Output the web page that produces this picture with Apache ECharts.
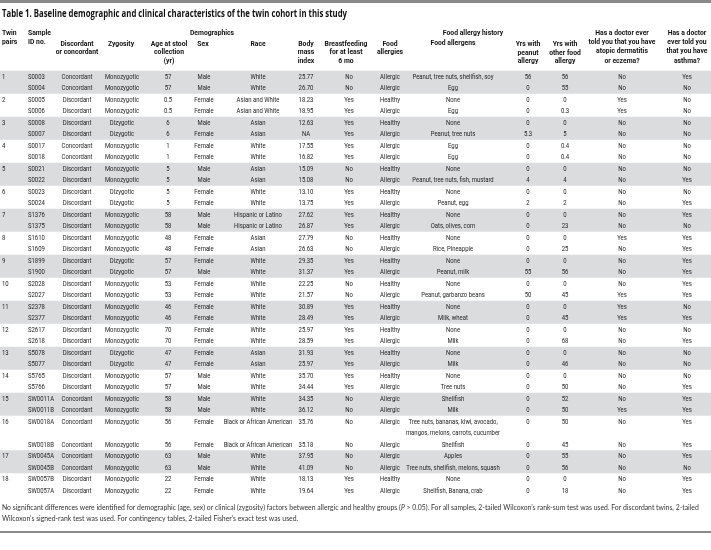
<!DOCTYPE html>
<html><head><meta charset="utf-8">
<script src="https://cdn.jsdelivr.net/npm/echarts@6/dist/echarts.min.js"></script>
<style>html,body{margin:0;padding:0;background:#fff}#c{width:711px;height:550px}</style>
</head><body><div id="c"></div>
<script>
// ---------------- DATA ----------------
const titleText = 'Table 1. Baseline demographic and clinical characteristics of the twin cohort in this study';
const pairNumbers = [1,2,3,4,5,6,7,8,9,10,11,12,13,14,15,16,17,18];
const pairDiscordance = ['Concordant','Discordant','Discordant','Concordant','Discordant','Discordant','Discordant','Discordant','Discordant','Discordant','Discordant','Discordant','Discordant','Discordant','Concordant','Concordant','Concordant','Discordant'];
const pairZygosity = ['Monozygotic','Monozygotic','Dizygotic','Monozygotic','Monozygotic','Dizygotic','Monozygotic','Monozygotic','Dizygotic','Monozygotic','Monozygotic','Monozygotic','Dizygotic','Monozygotic','Monozygotic','Monozygotic','Monozygotic','Monozygotic'];
const sampleIds = ['S0003','S0004','S0005','S0006','S0008','S0007','S0017','S0018','S0021','S0022','S0023','S0024','S1376','S1375','S1610','S1609','S1899','S1900','S2028','S2027','S2378','S2377','S2617','S2618','S5078','S5077','S5765','S5766','SW0011A','SW0011B','SW0018A','SW0018B','SW0045A','SW0045B','SW0057B','SW0057A'];
const ages = ['57','57','0.5','0.5','6','6','1','1','5','5','5','5','58','58','48','48','57','57','53','53','46','46','70','70','47','47','57','57','58','58','56','56','63','63','22','22'];
const sexes = ['Male','Male','Female','Female','Male','Female','Female','Female','Male','Male','Female','Female','Male','Male','Female','Female','Female','Male','Female','Female','Female','Female','Female','Female','Female','Female','Male','Male','Male','Male','Female','Female','Male','Male','Female','Female'];
const races = ['White','White','Asian and White','Asian and White','Asian','Asian','White','White','Asian','Asian','White','White','Hispanic or Latino','Hispanic or Latino','Asian','Asian','White','White','White','White','White','White','White','White','Asian','Asian','White','White','White','White','Black or African American','Black or African American','White','White','White','White'];
const bmis = ['25.77','26.70','18.23','18.95','12.63','NA','17.55','16.82','15.09','15.08','13.10','13.75','27.62','26.87','27.79','26.63','29.35','31.37','22.25','21.57','30.89','28.49','25.97','28.59','31.93','25.97','35.70','34.44','34.35','36.12','35.76','35.18','37.95','41.09','18.13','19.64'];
const breastfed = ['No','No','Yes','Yes','Yes','Yes','Yes','Yes','No','No','Yes','Yes','Yes','Yes','No','No','Yes','Yes','No','No','Yes','Yes','Yes','Yes','Yes','Yes','Yes','Yes','No','No','No','No','No','No','Yes','Yes'];
const foodAllergies = ['Allergic','Allergic','Healthy','Allergic','Healthy','Allergic','Allergic','Allergic','Healthy','Allergic','Healthy','Allergic','Healthy','Allergic','Healthy','Allergic','Healthy','Allergic','Healthy','Allergic','Healthy','Allergic','Healthy','Allergic','Healthy','Allergic','Healthy','Allergic','Allergic','Allergic','Allergic','Allergic','Allergic','Allergic','Healthy','Allergic'];
const allergens = ['Peanut, tree nuts, shellfish, soy','Egg','None','Egg','None','Peanut, tree nuts','Egg','Egg','None','Peanut, tree nuts, fish, mustard','None','Peanut, egg','None','Oats, olives, corn','None','Rice, Pineapple','None','Peanut, milk','None','Peanut, garbanzo beans','None','Milk, wheat','None','Milk','None','Milk','None','Tree nuts','Shellfish','Milk','Tree nuts, bananas, kiwi, avocado,\nmangos, melons, carrots, cucumber','Shellfish','Apples','Tree nuts, shellfish, melons, squash','None','Shellfish, Banana, crab'];
const yrsPeanut = ['56','0','0','0','0','5.3','0','0','0','4','0','2','0','0','0','0','0','55','0','50','0','0','0','0','0','0','0','0','0','0','0','0','0','0','0','0'];
const yrsOther = ['56','55','0','0.3','0','5','0.4','0.4','0','4','0','2','0','23','0','25','0','56','0','45','0','45','0','68','0','46','0','50','52','50','50','45','55','56','0','18'];
const atopic = ['No','No','Yes','Yes','No','No','No','No','No','No','No','No','No','No','Yes','No','No','No','No','Yes','Yes','Yes','No','No','No','No','No','No','No','Yes','No','No','No','No','No','No'];
const asthma = ['Yes','No','No','No','No','No','No','No','No','Yes','No','Yes','Yes','No','Yes','Yes','Yes','Yes','Yes','Yes','No','Yes','No','Yes','No','No','No','Yes','Yes','Yes','Yes','Yes','Yes','No','Yes','Yes'];
const footnoteLine1 = 'No significant differences were identified for demographic (age, sex) or clinical (zygosity) factors between allergic and healthy groups ({i|P} > 0.05). For all samples, 2-tailed Wilcoxon\u2019s rank-sum test was used. For discordant twins, 2-tailed';
const footnoteLine2 = 'Wilcoxon\u2019s signed-rank test was used. For contingency tables, 2-tailed Fisher\u2019s exact test was used.';

// ---------------- LAYOUT / STYLE ----------------
const FAM = "Roboto,'Liberation Sans',sans-serif";
const TITLE_FAM = "'Open Sans','Liberation Sans',sans-serif";
const NOTE_FAM = "Lato,'Open Sans',sans-serif";
const mctx = document.createElement('canvas').getContext('2d');
// horizontal squeeze that makes a text of given size fill a target width (emulates a condensed face)
function squeeze(text, weight, fam, size, target) {
  mctx.font = weight + ' ' + size + 'px ' + fam;
  return Math.min(1, target / mctx.measureText(text).width);
}
const BODY_SIZE = 8, HEAD_SIZE = 8, TITLE_SIZE = 10.4, NOTE_SIZE = 7.6;
const bodySX = squeeze('Peanut, tree nuts, shellfish, soy', 'normal', FAM, BODY_SIZE, 81);
const headSX = squeeze('told you that you have', 'bold', FAM, HEAD_SIZE, 67);
const titleSX = squeeze(titleText, 'bold', TITLE_FAM, TITLE_SIZE, 345);
const noteSX = squeeze(footnoteLine1.replace('{i|P}', 'P'), 'normal', NOTE_FAM, NOTE_SIZE, 697);

const TEXT = '#1e1e1e';
const BAND = '#dbdcde';
const LINE_H = 11.5, Y0 = 76.5, NLINES = 36;

const pairCol = []; const discCol = []; const zygCol = [];
sampleIds.forEach((s, i) => {
  const p = Math.floor(i / 2);
  pairCol.push(i % 2 === 0 ? String(pairNumbers[p]) : '');
  discCol.push(pairDiscordance[p]);
  zygCol.push(pairZygosity[p]);
});
const columns = [
  {vals: pairCol, x: 2, align: 'left'},
  {vals: sampleIds, x: 28, align: 'left'},
  {vals: discCol, x: 77, align: 'center'},
  {vals: zygCol, x: 122, align: 'center'},
  {vals: ages, x: 168, align: 'center'},
  {vals: sexes, x: 204, align: 'center'},
  {vals: races, x: 258, align: 'center'},
  {vals: bmis, x: 306, align: 'center'},
  {vals: breastfed, x: 349, align: 'center'},
  {vals: foodAllergies, x: 390, align: 'center'},
  {vals: allergens, x: 453, align: 'center'},
  {vals: yrsPeanut, x: 528, align: 'center'},
  {vals: yrsOther, x: 565, align: 'center'},
  {vals: atopic, x: 622, align: 'center'},
  {vals: asthma, x: 687, align: 'center'}
];
const rowLine = sampleIds.map((s, i) => i <= 30 ? i : i + 1);

const cellData = [];
sampleIds.forEach((s, r) => {
  columns.forEach((c, ci) => {
    if (c.vals[r] !== '') cellData.push([c.x, rowLine[r], ci, r]);
  });
});
const bandData = [];
pairNumbers.forEach((p, k) => {
  if (k % 2 === 0) bandData.push([0, rowLine[2 * k], 711, rowLine[2 * k + 1]]);
});

// header cells: text, x, align, first-line centre y, line height
const headers = [
  ['Twin\npairs', 2, 'left', 33, 8.5],
  ['Sample\nID no.', 28, 'left', 33, 8.5],
  ['Demographics', 212, 'center', 33, 9],
  ['Discordant\nor concordant', 77, 'center', 44, 8.3],
  ['Zygosity', 121, 'center', 44, 8.3],
  ['Age at stool\ncollection\n(yr)', 169, 'center', 44, 8.3],
  ['Sex', 203, 'center', 44, 8.3],
  ['Race', 258, 'center', 44, 8.3],
  ['Body\nmass\nindex', 306, 'center', 44, 8.3],
  ['Breastfeeding\nfor at least\n6 mo', 346, 'center', 44, 8.3],
  ['Food allergy history', 473, 'center', 33, 9],
  ['Food\nallergies', 390, 'center', 44, 8.3],
  ['Food allergens', 453, 'center', 43, 8.3],
  ['Yrs with\npeanut\nallergy', 528, 'center', 44, 8.7],
  ['Yrs with\nother food\nallergy', 565, 'center', 44, 8.7],
  ['Has a doctor ever\ntold you that you have\natopic dermatitis\nor eczema?', 622, 'center', 33, 9.2],
  ['Has a doctor\never told you\nthat you have\nasthma?', 687, 'center', 33, 9.2]
];
const graphics = [
  {type: 'rect', shape: {x: 0, y: 0, width: 711, height: 3}, style: {fill: '#8a8a8a'}, z: 10},
  {type: 'text', x: 2, y: 14, scaleX: titleSX, style: {text: titleText, fontFamily: TITLE_FAM, fontWeight: 'bold', fontSize: TITLE_SIZE, fill: '#111', align: 'left', verticalAlign: 'middle'}},
  {type: 'text', x: 2, y: 507.5, scaleX: noteSX, style: {text: footnoteLine1, fontFamily: NOTE_FAM, fontSize: NOTE_SIZE, fill: '#333', align: 'left', verticalAlign: 'middle',
    rich: {i: {fontStyle: 'italic', fontFamily: NOTE_FAM, fontSize: NOTE_SIZE, fill: '#333'}}}},
  {type: 'text', x: 2, y: 518.5, scaleX: noteSX, style: {text: footnoteLine2, fontFamily: NOTE_FAM, fontSize: NOTE_SIZE, fill: '#333', align: 'left', verticalAlign: 'middle'}},
  {type: 'rect', shape: {x: 0, y: 531, width: 711, height: 2}, style: {fill: '#8a8a8a'}}
];
headers.forEach(h => {
  graphics.push({type: 'text', x: h[1], y: h[3] - h[4] / 2, scaleX: headSX,
    style: {text: h[0], fontFamily: FAM, fontWeight: 'bold', fontSize: HEAD_SIZE, lineHeight: h[4], fill: '#111', align: h[2], verticalAlign: 'top'}});
});

const chart = echarts.init(document.getElementById('c'), null, {renderer: 'canvas'});
chart.setOption({
  animation: false,
  backgroundColor: '#fff',
  grid: {left: 0, right: 0, top: Y0, height: LINE_H * NLINES},
  xAxis: {type: 'value', min: 0, max: 711, show: false},
  yAxis: {type: 'value', min: 0, max: NLINES, inverse: true, show: false},
  graphic: graphics,
  series: [
    {
      type: 'custom', clip: false, z: 1, silent: true,
      data: bandData,
      renderItem: function (params, api) {
        const p0 = api.coord([api.value(0), api.value(1) - 0.5]);
        const p1 = api.coord([api.value(2), api.value(3) + 0.5]);
        return {type: 'rect', shape: {x: p0[0], y: p0[1], width: p1[0] - p0[0], height: p1[1] - p0[1]}, style: {fill: BAND}};
      }
    },
    {
      type: 'custom', clip: false, z: 2, silent: true,
      data: cellData,
      renderItem: function (params, api) {
        const ci = api.value(2), r = api.value(3);
        const col = columns[ci];
        const p = api.coord([api.value(0), api.value(1)]);
        return {type: 'text', x: p[0], y: p[1] - LINE_H / 2, scaleX: bodySX,
          style: {text: col.vals[r], fontFamily: FAM, fontSize: BODY_SIZE, lineHeight: LINE_H, fill: TEXT, align: col.align, verticalAlign: 'top'}};
      }
    }
  ]
});
</script></body></html>
